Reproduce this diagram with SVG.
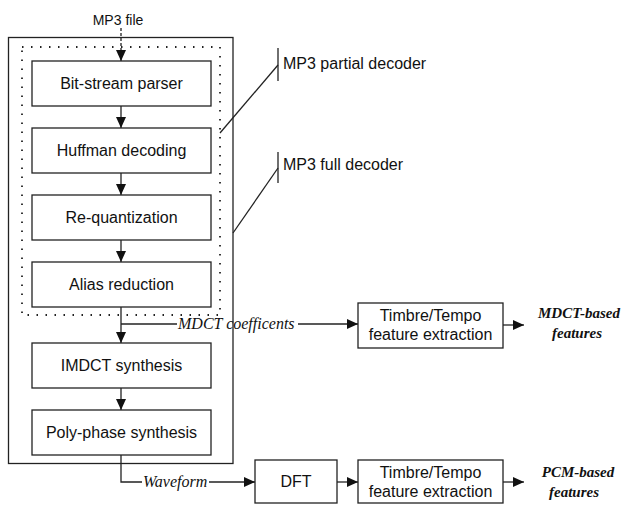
<svg xmlns="http://www.w3.org/2000/svg" width="622" height="506" viewBox="0 0 622 506">
<style>
.box{fill:#fff;stroke:#222;stroke-width:1.3}
.frame{fill:none;stroke:#222;stroke-width:1.3}
.dots{fill:none;stroke:#222;stroke-width:1.8;stroke-dasharray:1.5 7.5}
.t{font-family:"Liberation Sans",Arial,sans-serif;font-size:16px;fill:#111;text-anchor:middle}
.l{font-family:"Liberation Sans",Arial,sans-serif;font-size:16px;fill:#111}
.i{font-family:"Liberation Serif","Times New Roman",serif;font-style:italic;font-size:16px;fill:#111}
.o{font-family:"Liberation Serif","Times New Roman",serif;font-style:italic;font-weight:bold;font-size:15px;fill:#111;text-anchor:middle}
.c{stroke:#222;stroke-width:1.3;fill:none}
.a{stroke:#222;stroke-width:1.3;fill:none;marker-end:url(#ah)}
</style>
<defs>
<marker id="ah" markerUnits="userSpaceOnUse" markerWidth="12" markerHeight="10" refX="11" refY="5" orient="auto">
<path d="M0,0 L11,5 L0,10 z" fill="#111"/>
</marker>
</defs>
<rect width="622" height="506" fill="#fff"/>
<g id="frames">
<rect class="frame" x="8.5" y="37.5" width="224.5" height="426"/>
<rect class="dots" x="22" y="47" width="198" height="268"/>
</g>
<g id="connectors">
<line class="a" x1="121" y1="28" x2="121" y2="61" stroke-dasharray="3 2"/>
<line class="a" x1="121" y1="106" x2="121" y2="128"/>
<line class="a" x1="121" y1="173" x2="121" y2="195"/>
<line class="a" x1="121" y1="240" x2="121" y2="262"/>
<line class="a" x1="121" y1="307" x2="121" y2="343"/>
<line class="a" x1="121" y1="388" x2="121" y2="410"/>
<line class="c" x1="121" y1="324" x2="177" y2="324"/>
<line class="a" x1="298" y1="324" x2="358" y2="324"/>
<path class="c" d="M121,455 V482 H142"/>
<line class="a" x1="209" y1="482" x2="255" y2="482"/>
<line class="a" x1="337" y1="482" x2="358" y2="482"/>
<line class="a" x1="503" y1="325" x2="524" y2="325"/>
<line class="a" x1="503" y1="482" x2="524" y2="482"/>
<line class="c" x1="278" y1="48" x2="278" y2="81"/>
<line class="c" x1="278" y1="65" x2="220" y2="133"/>
<line class="c" x1="278" y1="152" x2="278" y2="183"/>
<line class="c" x1="278" y1="168" x2="233" y2="233"/>
</g>
<g id="mp3file"><text class="t" x="118" y="25" style="font-size:14px">MP3 file</text></g>
<g id="parser"><rect class="box" x="32" y="61" width="179" height="45"/><text class="t" x="121.5" y="89">Bit-stream parser</text></g>
<g id="huffman"><rect class="box" x="32" y="128" width="179" height="45"/><text class="t" x="121.5" y="156">Huffman decoding</text></g>
<g id="requant"><rect class="box" x="32" y="195" width="179" height="45"/><text class="t" x="121.5" y="223">Re-quantization</text></g>
<g id="alias"><rect class="box" x="32" y="262" width="179" height="45"/><text class="t" x="121.5" y="290">Alias reduction</text></g>
<g id="imdct"><rect class="box" x="32" y="343" width="179" height="45"/><text class="t" x="121.5" y="371">IMDCT synthesis</text></g>
<g id="polyphase"><rect class="box" x="32" y="410" width="179" height="45"/><text class="t" x="121.5" y="438">Poly-phase synthesis</text></g>
<g id="timbre1"><rect class="box" x="358" y="303" width="145" height="45"/><text class="t" x="430.5" y="321">Timbre/Tempo</text><text class="t" x="430.5" y="340">feature extraction</text></g>
<g id="dft"><rect class="box" x="255" y="460" width="82" height="43"/><text class="t" x="296" y="487">DFT</text></g>
<g id="timbre2"><rect class="box" x="358" y="460" width="145" height="43"/><text class="t" x="430.5" y="478">Timbre/Tempo</text><text class="t" x="430.5" y="497">feature extraction</text></g>
<g id="labels">
<text class="l" x="283" y="69">MP3 partial decoder</text>
<text class="l" x="283" y="170">MP3 full decoder</text>
<text class="i" x="178" y="329">MDCT coefficents</text>
<text class="i" x="143" y="487">Waveform</text>
<text class="o" x="579" y="318">MDCT-based</text>
<text class="o" x="577" y="338">features</text>
<text class="o" x="578" y="477">PCM-based</text>
<text class="o" x="574" y="497">features</text>
</g>
</svg>
